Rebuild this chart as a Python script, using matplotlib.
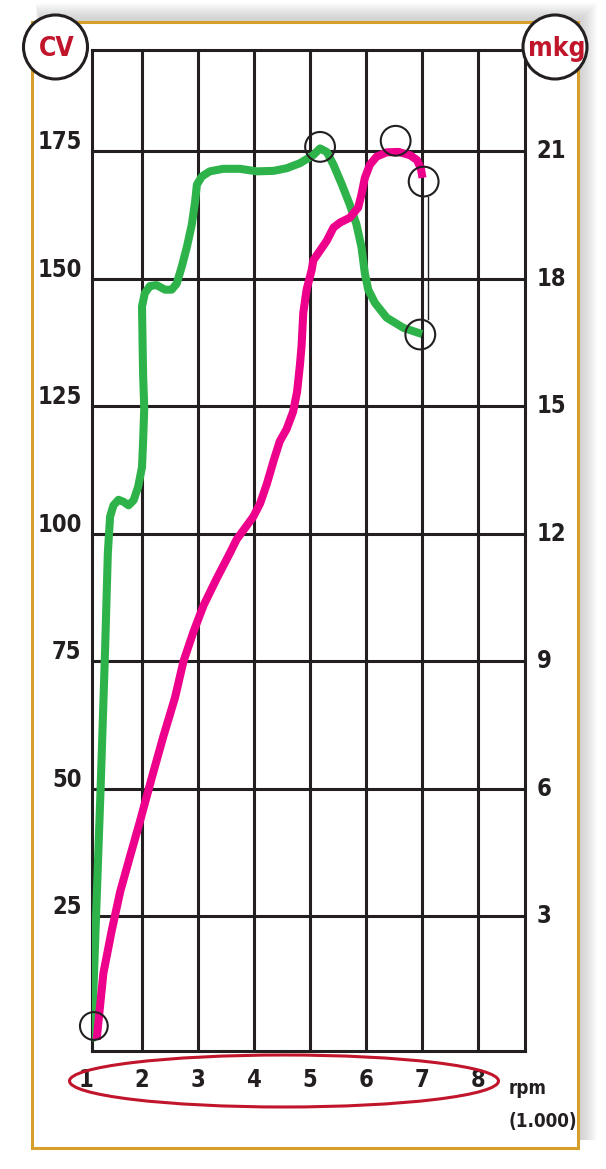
import matplotlib
matplotlib.use('Agg')
import matplotlib.pyplot as plt
from matplotlib.patches import Ellipse, Rectangle
from matplotlib.transforms import ScaledTranslation

# power curve (CV) vs rpm x 1000
rpm_power = [1.10, 1.26, 1.34, 1.39, 1.43, 1.49, 1.58, 1.67, 1.76, 1.85, 1.93, 2.00,
             2.02, 2.04, 2.02, 2.01, 2.00, 2.05, 2.14, 2.26, 2.41, 2.53, 2.62, 2.71,
             2.80, 2.89, 2.95, 2.98, 3.07, 3.21, 3.45, 3.75, 4.05, 4.35, 4.58, 4.82,
             5.06, 5.18, 5.30, 5.42, 5.57, 5.71, 5.83, 5.92, 5.98, 6.04, 6.16, 6.37,
             6.67, 7.00]
power_cv = [0.5, 49.9, 77.0, 96.3, 103.4, 105.6, 106.7, 106.3, 105.6, 106.6, 109.2, 113.1,
            118.2, 124.7, 131.1, 137.5, 144.6, 147.2, 148.6, 148.8, 147.9, 147.9, 149.1, 152.4,
            156.2, 160.7, 165.3, 168.5, 170.1, 171.1, 171.6, 171.6, 171.1, 171.2, 171.7, 172.7,
            174.3, 175.6, 174.9, 172.4, 168.5, 164.6, 160.7, 156.2, 151.1, 147.9, 145.3, 142.4,
            140.4, 139.2]

# torque curve (mkg) vs rpm x 1000
rpm_torque = [1.19, 1.31, 1.46, 1.61, 1.79, 1.96, 2.17, 2.38, 2.59, 2.74, 2.92,
              3.10, 3.33, 3.57, 3.69, 3.99, 4.11, 4.23, 4.35, 4.46, 4.58, 4.70, 4.77,
              4.82, 4.85, 4.88, 4.94, 5.03, 5.06, 5.18, 5.30, 5.42, 5.54, 5.71, 5.86,
              5.92, 5.98, 6.07, 6.19, 6.37, 6.58, 6.79, 6.91, 6.98, 7.01]
torque_mkg = [0.1, 1.66, 2.67, 3.58, 4.43, 5.22, 6.24, 7.23, 8.15, 9.00, 9.70,
              10.32, 10.94, 11.55, 11.87, 12.41, 12.72, 13.18, 13.72, 14.18, 14.46, 14.88, 15.35,
              15.97, 16.43, 17.20, 17.75, 18.21, 18.44, 18.67, 18.90, 19.21, 19.33, 19.44, 19.68,
              19.99, 20.38, 20.69, 20.88, 20.98, 20.99, 20.91, 20.80, 20.60, 20.38]

# highlighted points (rpm, CV scale)
mark_rpm = [1.14, 5.18, 6.53, 7.03, 6.97]
mark_cv = [3.5, 175.9, 177.1, 169.1, 139.1]

cv_ticks = [25, 50, 75, 100, 125, 150, 175]
mkg_ticks = [3, 6, 9, 12, 15, 18, 21]
rpm_labels = ['1', '2', '3', '4', '5', '6', '7', '8']
MKG_PER_CV = 0.12

INK = '#231F20'
GREEN = '#2DB34A'
MAGENTA = '#EC008C'
RED = '#C0152A'
GOLD = '#D69E2A'

plt.rcParams['font.family'] = ['Liberation Sans Narrow', 'DejaVu Sans']
plt.rcParams['font.stretch'] = 'condensed'
plt.rcParams['font.weight'] = 'bold'

W, H = 606, 1169
fig = plt.figure(figsize=(W / 100, H / 100), dpi=100)
fig.patch.set_facecolor('white')

# soft shadow (up / right) + gold frame
for k in range(16):
    x0, x1 = 40 - 0.3 * k, 582 + k
    y0, y1 = 18 - k, 1140
    fig.patches.append(Rectangle((x0 / W, 1 - y1 / H), (x1 - x0) / W, (y1 - y0) / H,
                                 transform=fig.transFigure, facecolor='#7a7a7a',
                                 edgecolor='none', alpha=0.02, zorder=-3))
fig.patches.append(Rectangle((32 / W, 1 - 1148 / H), 546 / W, 1126 / H,
                             transform=fig.transFigure, facecolor='white',
                             edgecolor=GOLD, linewidth=2.2, zorder=-2))

ax = fig.add_axes([92 / W, 1 - 1051 / H, (525 - 92) / W, (1051 - 50) / H])
ax.set_facecolor('none')
ylo, yhi = -1.4, 194.9
ax.set_xlim(1.107, 8.84)
ax.set_ylim(ylo, yhi)

ax.plot(rpm_power, power_cv, color=GREEN, lw=5.8, solid_joinstyle='round',
        solid_capstyle='butt', zorder=3)

ax.set_xticks(range(2, 9))
ax.set_xticklabels([])
ax.set_yticks(cv_ticks)
ax.set_yticklabels([str(v) for v in cv_ticks])
ax.grid(True, color=INK, lw=2.2)
ax.set_axisbelow(True)
ax.tick_params(axis='both', length=0)
ax.tick_params(axis='y', pad=7.5, labelsize=17, labelcolor=INK)
for lab in ax.get_yticklabels():
    lab.set_transform(lab.get_transform() + ScaledTranslation(0, 8.5 / 72, fig.dpi_scale_trans))
for sp in ax.spines.values():
    sp.set_color(INK)
    sp.set_linewidth(2.2)

ax2 = ax.twinx()
ax2.set_ylim(ylo * MKG_PER_CV, yhi * MKG_PER_CV)
ax2.plot(rpm_torque, torque_mkg, color=MAGENTA, lw=5.8, solid_joinstyle='round',
         solid_capstyle='butt', zorder=3)
ax2.set_yticks(mkg_ticks)
ax2.set_yticklabels([str(v) for v in mkg_ticks])
ax2.tick_params(axis='y', length=0, pad=8.5, labelsize=17, labelcolor=INK)
for lab in ax2.get_yticklabels():
    lab.set_transform(lab.get_transform() + ScaledTranslation(0, 2 / 72, fig.dpi_scale_trans))
for sp in ax2.spines.values():
    sp.set_visible(False)

# circles and connector
ax2.scatter(mark_rpm, [c * MKG_PER_CV for c in mark_cv], s=[400, 460, 460, 460, 460],
            facecolors='none', edgecolors=INK, linewidths=1.5, zorder=5, clip_on=False)
ax2.plot([7.11, 7.11], [166.1 * MKG_PER_CV, 142.1 * MKG_PER_CV], color=INK, lw=1.0, zorder=4)

# rpm labels
for i, lab in enumerate(rpm_labels):
    ax.text(i + 1, -0.029, lab, transform=ax.get_xaxis_transform(), ha='center',
            va='center', fontsize=17, color=INK)
fig.text(509 / W, 1 - 1088 / H, 'rpm', ha='left', va='center', fontsize=13.5, color=INK)
fig.text(509 / W, 1 - 1121 / H, '(1.000)', ha='left', va='center', fontsize=13.5, color=INK)
fig.patches.append(Ellipse((284 / W, 1 - 1081 / H), 429 / W, 52 / H,
                           transform=fig.transFigure, facecolor='none',
                           edgecolor=RED, linewidth=2.2, zorder=5))

# unit badges
for cx, txt in [(55.5, 'CV'), (555, 'mkg')]:
    fig.patches.append(Ellipse((cx / W, 1 - 47 / H), 64 / W, 64 / H,
                               transform=fig.transFigure, facecolor='white',
                               edgecolor=INK, linewidth=2.2, zorder=5))
    fig.text((cx + 1.5) / W, 1 - 49 / H, txt, ha='center', va='center', fontsize=19,
             color=RED, zorder=6)

fig.savefig('out.png', dpi=100)
